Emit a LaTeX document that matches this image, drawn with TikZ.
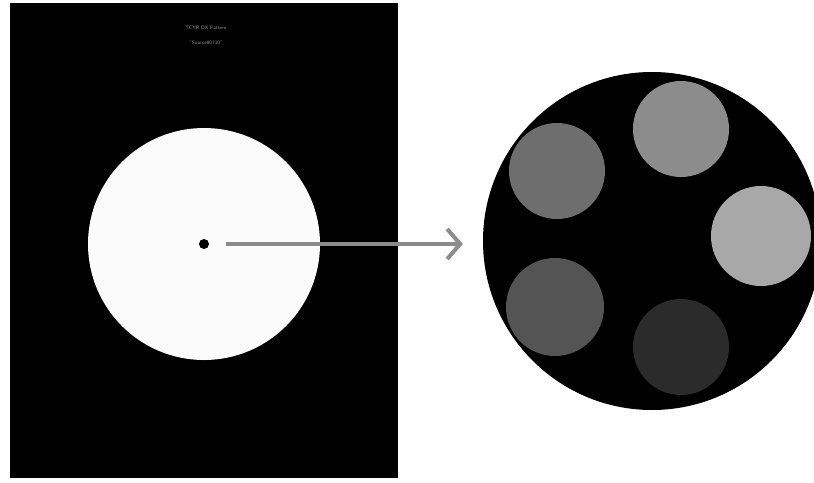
\documentclass[tikz,border=0pt]{standalone}
\usetikzlibrary{arrows.meta}
\begin{document}
\begin{tikzpicture}[x=1pt,y=-1pt,
  disk/.style={circle, inner sep=0pt, draw=none},
  tinytext/.style={text=gray!80, font=\fontsize{5}{6}\selectfont\sffamily, inner sep=0pt},
  pointer/.style={draw=gray!90, line width=4pt, -{Straight Barb[length=13pt, width=30pt, line width=4pt]}}
]
\useasboundingbox (0,0) rectangle (814,482);
\clip (0,0) rectangle (814,482);
\fill[white] (0,0) rectangle (814,482);
% left panel
\fill[black] (10,3) rectangle (398,478);
\node[tinytext] (title) at (206,28) {TCYR DX Pattern};
\node[tinytext] (sub) at (206,43) {"Source80710"};
\node[disk, fill=white!97!gray, minimum size=232pt] (target) at (204,244) {};
\node[disk, fill=black, minimum size=10pt] (dot) at (204,244) {};
% right panel
\node[disk, fill=black, minimum size=338pt] (zoom) at (652,241) {};
\node[disk, fill=black!45, minimum size=96pt] (s1) at (681,129) {};
\node[disk, fill=black!57, minimum size=96pt] (s2) at (557,171) {};
\node[disk, fill=black!34, minimum size=100pt] (s3) at (761,236) {};
\node[disk, fill=black!67, minimum size=98pt] (s4) at (555,307) {};
\node[disk, fill=black!83, minimum size=96pt] (s5) at (681,347) {};
% arrow
\draw[pointer, shorten <=17pt, shorten >=20pt] (dot.east) -- (dot.east -| zoom.west);
\end{tikzpicture}
\end{document}
